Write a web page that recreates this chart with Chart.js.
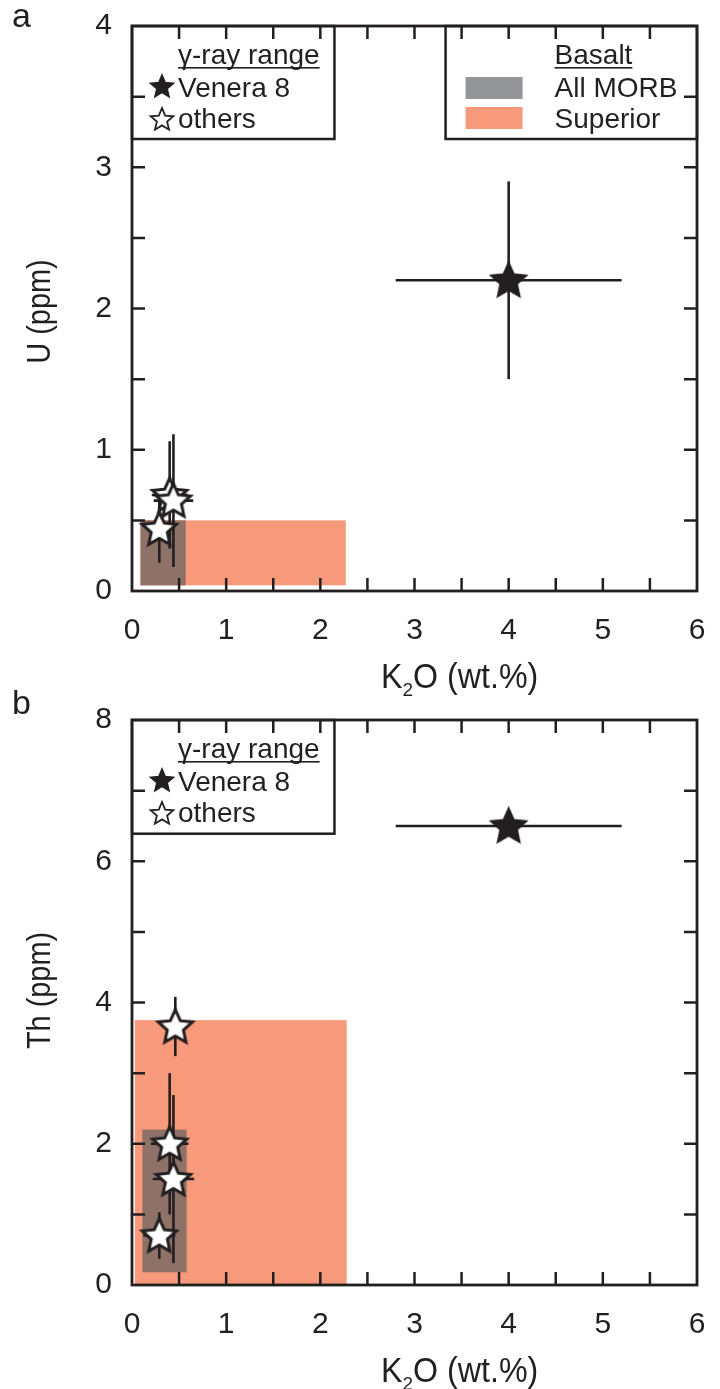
<!DOCTYPE html>
<html>
<head>
<meta charset="utf-8">
<script src="https://cdn.jsdelivr.net/npm/chart.js@4.4.1/dist/chart.umd.min.js"></script>
<style>
  html, body { margin:0; padding:0; background:#fff; }
  #wrap { position:relative; width:720px; height:1389px; }
  canvas { position:absolute; left:0; }
</style>
</head>
<body>
<div id="wrap">
  <canvas id="ca" width="720" height="700" style="top:0"></canvas>
  <canvas id="cb" width="720" height="709" style="top:680px"></canvas>
</div>
<script>
// ---------- data ----------
const xTickLabels = ['0','1','2','3','4','5','6'];
const uTickLabels = ['0','1','2','3','4'];
const thTickLabels = ['0','2','4','6','8'];
const sampleNames = ['Venera 8', 'others'];
const basaltNames = ['All MORB', 'Superior'];

// panel a (U vs K2O)
const aVeneraK2O = [4.0];
const aVeneraU = [2.2];
const aVeneraK2OErr = [1.2];
const aVeneraUErr = [0.7];
const aOthersK2O = [0.29, 0.40, 0.44];
const aOthersU = [0.44, 0.68, 0.64];
const aOthersK2OErr = [0.10, 0.19, 0.21];
const aOthersUErr = [0.24, 0.38, 0.47];
const aMorbK2O = [0.09, 0.57];
const aMorbU = [0.04, 0.50];
const aSupK2O = [0.09, 2.27];
const aSupU = [0.04, 0.50];

// panel b (Th vs K2O)
const bVeneraK2O = [4.0];
const bVeneraTh = [6.5];
const bVeneraK2OErr = [1.2];
const bVeneraThErr = [0];
const bOthersK2O = [0.46, 0.40, 0.44, 0.29];
const bOthersTh = [3.66, 2.0, 1.5, 0.70];
const bOthersK2OErr = [0.12, 0.20, 0.22, 0.17];
const bOthersThErr = [0.42, 1.0, 1.19, 0.33];
const bMorbK2O = [0.11, 0.58];
const bMorbTh = [0.18, 2.20];
const bSupK2O = [0.03, 2.28];
const bSupTh = [0, 3.75];

// ---------- styles ----------
const INK = '#231f20';
const SUP_COLOR = '#f69a7b';
const MORB_OVER = '#8e7268';
const MORB_LEGEND = '#939598';
const FONT = '"Liberation Sans", Arial, Helvetica, sans-serif';

function starPath(ctx, cx, cy, R, r) {
  ctx.beginPath();
  for (let i = 0; i < 10; i++) {
    const ang = -Math.PI / 2 + i * Math.PI / 5;
    const rad = (i % 2 === 0) ? R : r;
    const px = cx + rad * Math.cos(ang), py = cy + rad * Math.sin(ang);
    if (i === 0) ctx.moveTo(px, py); else ctx.lineTo(px, py);
  }
  ctx.closePath();
}
function starImage(R, fill, lw) {
  const s = Math.ceil(2 * (R + lw * 3) + 2);
  const c = document.createElement('canvas');
  c.width = s; c.height = s;
  const ctx = c.getContext('2d');
  starPath(ctx, s / 2, s / 2 + 1, R, R * 0.47);
  ctx.fillStyle = fill; ctx.fill();
  ctx.lineWidth = lw; ctx.lineJoin = 'miter'; ctx.miterLimit = 10;
  ctx.strokeStyle = INK; ctx.stroke();
  return c;
}
const blackStar = starImage(18, INK, 2.4);
const whiteStar = starImage(18, '#ffffff', 3.0);

function pts(xs, ys) { return xs.map((x, i) => ({x: x, y: ys[i]})); }

// ---------- plugins ----------
function rectsPlugin(rects) {
  return {
    id: 'rects',
    beforeDatasetsDraw(chart) {
      const {ctx, scales: {x, y}} = chart;
      ctx.save();
      rects.forEach(r => {
        const x0 = x.getPixelForValue(r.xs[0]), x1 = x.getPixelForValue(r.xs[1]);
        const y0 = y.getPixelForValue(r.ys[0]), y1 = y.getPixelForValue(r.ys[1]);
        ctx.fillStyle = r.color;
        ctx.fillRect(x0, y1, x1 - x0, y0 - y1);
      });
      ctx.restore();
    }
  };
}
function errPlugin(groups) {
  return {
    id: 'errbars',
    beforeDatasetsDraw(chart) {
      const {ctx, scales: {x, y}} = chart;
      ctx.save();
      ctx.strokeStyle = INK; ctx.lineWidth = 2.6;
      groups.forEach(g => {
        g.xs.forEach((xv, i) => {
          const px = x.getPixelForValue(xv), py = y.getPixelForValue(g.ys[i]);
          if (g.xe[i] > 0) {
            ctx.beginPath();
            ctx.moveTo(x.getPixelForValue(xv - g.xe[i]), py);
            ctx.lineTo(x.getPixelForValue(xv + g.xe[i]), py);
            ctx.stroke();
          }
          if (g.ye[i] > 0) {
            ctx.beginPath();
            ctx.moveTo(px, y.getPixelForValue(g.ys[i] - g.ye[i]));
            ctx.lineTo(px, y.getPixelForValue(g.ys[i] + g.ye[i]));
            ctx.stroke();
          }
        });
      });
      ctx.restore();
    }
  };
}
function drawUnderlined(ctx, text, x, y) {
  ctx.fillText(text, x, y);
  const w = ctx.measureText(text).width;
  ctx.fillRect(x, y + 3, w, 1.6);
}
function drawSampleLegend(ctx, x0, y0, x1, y1) {
  ctx.fillStyle = '#fff';
  ctx.fillRect(x0, y0, x1 - x0, y1 - y0);
  ctx.strokeStyle = INK; ctx.lineWidth = 2.5;
  ctx.strokeRect(x0, y0, x1 - x0, y1 - y0);
  ctx.fillStyle = INK;
  ctx.font = '28px ' + FONT;
  ctx.textAlign = 'left'; ctx.textBaseline = 'alphabetic';
  drawUnderlined(ctx, '\u03b3-ray range', x0 + 46, y0 + 38);
  ctx.fillText(sampleNames[0], x0 + 46, y0 + 71);
  ctx.fillText(sampleNames[1], x0 + 46, y0 + 102);
  starPath(ctx, x0 + 30, y0 + 61, 12, 12 * 0.45);
  ctx.fillStyle = INK; ctx.fill(); ctx.lineWidth = 1.6; ctx.stroke();
  starPath(ctx, x0 + 30, y0 + 94, 12, 12 * 0.45);
  ctx.fillStyle = '#fff'; ctx.fill(); ctx.lineWidth = 1.8; ctx.stroke();
}
function drawBasaltLegend(ctx, x0, y0, x1, y1) {
  ctx.fillStyle = '#fff';
  ctx.fillRect(x0, y0, x1 - x0, y1 - y0);
  ctx.strokeStyle = INK; ctx.lineWidth = 2.5;
  ctx.strokeRect(x0, y0, x1 - x0, y1 - y0);
  ctx.fillStyle = INK;
  ctx.font = '28px ' + FONT;
  ctx.textAlign = 'left'; ctx.textBaseline = 'alphabetic';
  drawUnderlined(ctx, 'Basalt', x0 + 109, y0 + 38);
  ctx.fillText(basaltNames[0], x0 + 109, y0 + 71);
  ctx.fillText(basaltNames[1], x0 + 109, y0 + 102);
  ctx.fillStyle = MORB_LEGEND; ctx.fillRect(x0 + 20, y0 + 51, 57, 22);
  ctx.fillStyle = SUP_COLOR; ctx.fillRect(x0 + 20, y0 + 81, 57, 22);
}
// text narrowed along its own direction
function narrowText(ctx, text, x, y, sx) {
  ctx.save();
  ctx.translate(x, y);
  ctx.scale(sx, 1);
  ctx.fillText(text, 0, 0);
  const w = ctx.measureText(text).width * sx;
  ctx.restore();
  return w;
}
function framePlugin(opts) {
  return {
    id: 'frame',
    afterDraw(chart) {
      const {ctx, chartArea: a, scales: {x, y}} = chart;
      ctx.save();
      // legends
      opts.legends.forEach(L => {
        const lx0 = x.getPixelForValue(L.x[0]), lx1 = x.getPixelForValue(L.x[1]);
        const ly0 = y.getPixelForValue(L.y[1]), ly1 = y.getPixelForValue(L.y[0]);
        L.draw(ctx, lx0, ly0, lx1, ly1);
      });
      // inward ticks
      ctx.strokeStyle = INK; ctx.lineWidth = 2.5;
      const TL = 13;
      x.ticks.forEach(t => {
        const px = x.getPixelForValue(t.value);
        if (px <= a.left + 1 || px >= a.right - 1) return;
        ctx.beginPath();
        ctx.moveTo(px, a.bottom); ctx.lineTo(px, a.bottom - TL);
        ctx.moveTo(px, a.top); ctx.lineTo(px, a.top + TL);
        ctx.stroke();
      });
      y.ticks.forEach(t => {
        const py = y.getPixelForValue(t.value);
        if (py <= a.top + 1 || py >= a.bottom - 1) return;
        ctx.beginPath();
        ctx.moveTo(a.left, py); ctx.lineTo(a.left + TL, py);
        ctx.moveTo(a.right, py); ctx.lineTo(a.right - TL, py);
        ctx.stroke();
      });
      ctx.lineWidth = 2.8;
      ctx.strokeRect(a.left, a.top, a.right - a.left, a.bottom - a.top);
      // x axis title with subscript
      ctx.fillStyle = INK;
      ctx.textBaseline = 'alphabetic'; ctx.textAlign = 'left';
      let tx = 381, ty = a.bottom + 97;
      ctx.font = '35px ' + FONT;
      tx += narrowText(ctx, 'K', tx, ty, 0.92);
      ctx.font = '19px ' + FONT;
      tx += narrowText(ctx, '2', tx, ty + 8, 1.0);
      ctx.font = '35px ' + FONT;
      narrowText(ctx, 'O (wt.%)', tx, ty, 0.92);
      // y axis title (rotated)
      ctx.save();
      ctx.translate(49.5, (a.top + a.bottom) / 2 + opts.yTitleDy);
      ctx.rotate(-Math.PI / 2);
      ctx.scale(0.85, 1);
      ctx.font = '34px ' + FONT;
      ctx.textAlign = 'center';
      ctx.fillText(opts.yTitle, 0, 0);
      ctx.restore();
      // panel letter
      ctx.font = '34px ' + FONT;
      ctx.fillText(opts.letter, 12, opts.letterY);
      ctx.restore();
    }
  };
}

function makeChart(id, cfg) {
  return new Chart(document.getElementById(id), {
    type: 'scatter',
    data: {
      datasets: [
        { label: sampleNames[1], data: cfg.others, pointStyle: whiteStar, pointRadius: 18, pointHoverRadius: 18 },
        { label: sampleNames[0], data: cfg.venera, pointStyle: blackStar, pointRadius: 18, pointHoverRadius: 18 }
      ]
    },
    options: {
      responsive: false,
      animation: false,
      devicePixelRatio: 1,
      events: [],
      layout: { padding: { top: cfg.padTop, right: 23, left: 0, bottom: 0 } },
      plugins: { legend: { display: false }, tooltip: { enabled: false } },
      scales: {
        x: {
          type: 'linear', min: 0, max: 6,
          grid: { display: false, drawTicks: false },
          border: { display: false },
          afterFit: s => { s.height = cfg.xHeight; s.paddingLeft = 0; s.paddingRight = 0; },
          ticks: {
            stepSize: 0.5, autoSkip: false, maxRotation: 0, padding: 22,
            color: INK, font: { family: FONT, size: 30 },
            callback: v => Math.abs(v - Math.round(v)) < 1e-6 ? xTickLabels[Math.round(v)] : ''
          }
        },
        y: {
          type: 'linear', min: 0, max: cfg.yMax,
          grid: { display: false, drawTicks: false },
          border: { display: false },
          afterFit: s => { s.width = 132; s.paddingTop = 0; s.paddingBottom = 0; },
          ticks: {
            stepSize: cfg.yStep, autoSkip: false, padding: 20,
            color: INK, font: { family: FONT, size: 30 },
            callback: cfg.yLabel
          }
        }
      }
    },
    plugins: [rectsPlugin(cfg.rects), errPlugin(cfg.err), framePlugin(cfg.frame)]
  });
}

makeChart('ca', {
  padTop: 26, xHeight: 109, yMax: 4, yStep: 0.5,
  yLabel: v => Math.abs(v - Math.round(v)) < 1e-6 ? uTickLabels[Math.round(v)] : '',
  others: pts(aOthersK2O, aOthersU),
  venera: pts(aVeneraK2O, aVeneraU),
  rects: [
    { xs: aSupK2O, ys: aSupU, color: SUP_COLOR },
    { xs: aMorbK2O, ys: aMorbU, color: MORB_OVER }
  ],
  err: [
    { xs: aVeneraK2O, ys: aVeneraU, xe: aVeneraK2OErr, ye: aVeneraUErr },
    { xs: aOthersK2O, ys: aOthersU, xe: aOthersK2OErr, ye: aOthersUErr }
  ],
  frame: {
    yTitle: 'U (ppm)', yTitleDy: 3, letter: 'a', letterY: 27,
    legends: [
      { x: [0, 2.15], y: [3.2, 4], draw: drawSampleLegend },
      { x: [3.33, 6], y: [3.2, 4], draw: drawBasaltLegend }
    ]
  }
});

makeChart('cb', {
  padTop: 40, xHeight: 104, yMax: 8, yStep: 1,
  yLabel: v => (Math.round(v) % 2 === 0) ? thTickLabels[Math.round(v) / 2] : '',
  others: pts(bOthersK2O, bOthersTh),
  venera: pts(bVeneraK2O, bVeneraTh),
  rects: [
    { xs: bSupK2O, ys: bSupTh, color: SUP_COLOR },
    { xs: bMorbK2O, ys: bMorbTh, color: MORB_OVER }
  ],
  err: [
    { xs: bVeneraK2O, ys: bVeneraTh, xe: bVeneraK2OErr, ye: bVeneraThErr },
    { xs: bOthersK2O, ys: bOthersTh, xe: bOthersK2OErr, ye: bOthersThErr }
  ],
  frame: {
    yTitle: 'Th (ppm)', yTitleDy: -12, letter: 'b', letterY: 34,
    legends: [
      { x: [0, 2.15], y: [6.39, 8], draw: drawSampleLegend }
    ]
  }
});
</script>
</body>
</html>
